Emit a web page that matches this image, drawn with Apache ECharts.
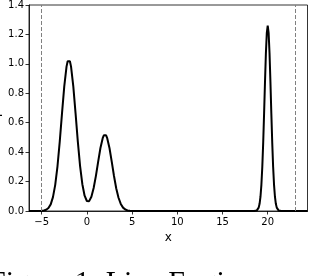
<!DOCTYPE html>
<html>
<head>
<meta charset="utf-8">
<script src="https://cdn.jsdelivr.net/npm/echarts@6/dist/echarts.min.js"></script>
<style>html,body{margin:0;padding:0;background:#fff}#c{width:312px;height:276px}</style>
</head>
<body>
<div id="c"></div>
<script>
// x positions and read-off density values
const xValues = [-6.4, -5.5, -5.0, -4.75, -4.5, -4.25, -4.0, -3.75, -3.5, -3.25, -3.0, -2.75, -2.5, -2.25, -2.125, -2.0,
  -1.875, -1.75, -1.5, -1.25, -1.0, -0.75, -0.5, -0.25, 0.0, 0.25, 0.5, 0.75, 1.0, 1.25, 1.5, 1.75, 1.875, 2.0,
  2.125, 2.25, 2.5, 2.75, 3.0, 3.25, 3.5, 3.75, 4.0, 4.25, 4.5, 4.75, 5.0, 5.5,
  18.5, 18.6, 18.7, 18.8, 18.9, 19.0, 19.1, 19.2, 19.3, 19.4, 19.5, 19.6, 19.7, 19.8, 19.9, 20.0,
  20.1, 20.2, 20.3, 20.4, 20.5, 20.6, 20.7, 20.8, 20.9, 21.0, 21.1, 21.2, 21.3, 21.4, 21.5, 24.4];
const yValues = [0, 0, 0.001, 0.003, 0.008, 0.020, 0.045, 0.094, 0.178, 0.304, 0.472, 0.664, 0.847, 0.981, 1.018, 1.03,
  1.018, 0.981, 0.847, 0.664, 0.472, 0.305, 0.182, 0.104, 0.068, 0.067, 0.097, 0.156, 0.239, 0.335, 0.428, 0.495, 0.514, 0.52,
  0.514, 0.495, 0.428, 0.335, 0.238, 0.153, 0.090, 0.048, 0.023, 0.010, 0.004, 0.001, 0.0005, 0,
  0.0002, 0.0005, 0.0015, 0.004, 0.010, 0.023, 0.049, 0.097, 0.178, 0.299, 0.464, 0.664, 0.879, 1.074, 1.211, 1.26,
  1.211, 1.074, 0.879, 0.664, 0.464, 0.299, 0.178, 0.097, 0.049, 0.023, 0.010, 0.004, 0.0015, 0.0005, 0.0002, 0];
const xTicks = [-5, 0, 5, 10, 15, 20];
const boundaryLines = [-5, 23];
const xLabel = 'x';
const yLabel = 'p(x)';
const caption = 'Figure 1: Line Engine';

const data = xValues.map((x, i) => [x, yValues[i]]);
const fmtMinus = v => (v < 0 ? '\u2212' + Math.abs(v) : String(v));
const font = 'DejaVu Sans';

const chart = echarts.init(document.getElementById('c'), null, {renderer: 'canvas'});
chart.setOption({
  animation: false,
  grid: {left: 29, right: 4.5, top: 3, bottom: 65, show: true, borderColor: '#000', borderWidth: 0.8, backgroundColor: 'transparent'},
  xAxis: {
    type: 'value', min: -6.4, max: 24.4,
    name: xLabel, nameLocation: 'middle', nameGap: 20,
    nameTextStyle: {fontFamily: font, fontSize: 12, color: '#000'},
    axisLine: {show: true, onZero: false, lineStyle: {color: '#000', width: 0.8}},
    axisTick: {show: true, customValues: xTicks, length: 3.5, inside: false, lineStyle: {color: '#000', width: 0.8}},
    axisLabel: {customValues: xTicks, formatter: fmtMinus, fontFamily: font, fontSize: 10, color: '#000', margin: 6},
    splitLine: {show: false}
  },
  yAxis: {
    type: 'value', min: 0, max: 1.4, interval: 0.2,
    axisLine: {show: true, onZero: false, lineStyle: {color: '#000', width: 0.8}},
    axisTick: {show: true, length: 3.5, lineStyle: {color: '#000', width: 0.8}},
    axisLabel: {formatter: v => v.toFixed(1), fontFamily: font, fontSize: 10, color: '#000', margin: 5},
    splitLine: {show: false}
  },
  series: [{
    type: 'line', data: data, showSymbol: false, smooth: false,
    lineStyle: {color: '#000', width: 2},
    clip: true,
    markLine: {
      silent: true, symbol: ['none', 'none'], label: {show: false},
      lineStyle: {color: '#808080', type: [4, 2], width: 1},
      data: boundaryLines.map(v => ({xAxis: v}))
    }
  }],
  graphic: [
    {type: 'text', x: -4, y: 105, rotation: Math.PI / 2,
     style: {text: yLabel, font: '12px "DejaVu Sans"', fill: '#000', align: 'center', verticalAlign: 'middle'}},
    {type: 'text', x: -11, y: 268,
     style: {text: caption, font: '30px "Liberation Serif"', fill: '#000', align: 'left', verticalAlign: 'top'}}
  ]
});
</script>
</body>
</html>
